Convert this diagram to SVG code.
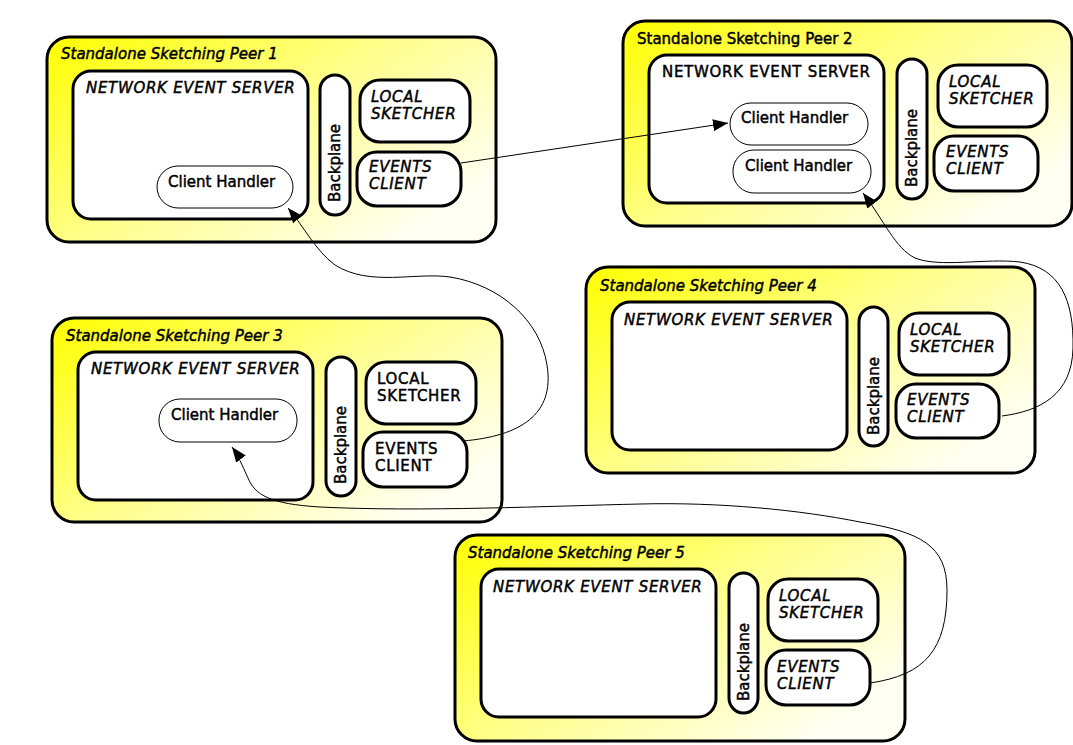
<svg xmlns="http://www.w3.org/2000/svg" width="1073" height="745" viewBox="0 0 1073 745">
  <defs>
    <linearGradient id="peerFill" x1="0" y1="0" x2="1" y2="0.7">
      <stop offset="0" stop-color="#ffff00"/>
      <stop offset="0.5" stop-color="#ffff88"/>
      <stop offset="1" stop-color="#fffff4"/>
    </linearGradient>
    <marker id="arrow" markerUnits="userSpaceOnUse" markerWidth="16" markerHeight="12" refX="15" refY="6" orient="auto">
      <path d="M0,0 L15,6 L0,12 Z" fill="#000"/>
    </marker>
  </defs>
  <style>
    .peer { fill: url(#peerFill); stroke: #000; stroke-width: 3; }
    .box { fill: #fff; stroke: #000; stroke-width: 3; }
    .handler { fill: #fff; stroke: #000; stroke-width: 1; }
    text { font-family: "DejaVu Sans", "Liberation Sans", sans-serif; fill: #000; stroke: #000; stroke-width: 0.45; }
    .title { font-size: 15px; }
    .caps { font-size: 15px; letter-spacing: 0.7px; }
    .ch { font-size: 15px; }
    .bp { font-size: 15px; text-anchor: middle; }
    .it { font-style: oblique; }
    .conn { fill: none; stroke: #000; stroke-width: 1; }
  </style>

  <rect width="1073" height="745" fill="#fff"/>

  <!-- Peer 1 -->
  <g id="peer1" transform="translate(47,37)">
    <rect class="peer" x="0" y="0" width="449" height="205" rx="22"/>
    <text class="title it" x="14" y="22">Standalone Sketching Peer 1</text>
    <g id="peer1-server">
      <rect class="box" x="26" y="34" width="235" height="148" rx="18"/>
      <text class="caps it" x="39" y="56">NETWORK EVENT SERVER</text>
    </g>
    <g id="peer1-handler">
      <rect class="handler" x="110" y="129" width="136" height="42" rx="21"/>
      <text class="ch" x="121" y="150">Client Handler</text>
    </g>
    <g id="peer1-backplane">
      <rect class="box" x="273" y="38" width="30" height="140" rx="15"/>
      <text class="bp" transform="translate(293,126) rotate(-90)">Backplane</text>
    </g>
    <g id="peer1-sketcher">
      <rect class="box" x="313" y="43" width="110" height="62" rx="20"/>
      <text class="caps it" x="324" y="65">LOCAL</text>
      <text class="caps it" x="324" y="82">SKETCHER</text>
    </g>
    <g id="peer1-client">
      <rect class="box" x="310" y="115" width="104" height="54" rx="20"/>
      <text class="caps it" x="322" y="135">EVENTS</text>
      <text class="caps it" x="322" y="152">CLIENT</text>
    </g>
  </g>

  <!-- Peer 2 -->
  <g id="peer2" transform="translate(623,21)">
    <rect class="peer" x="0" y="0" width="449" height="205" rx="22"/>
    <text class="title" x="14" y="23">Standalone Sketching Peer 2</text>
    <g id="peer2-server">
      <rect class="box" x="26" y="34" width="235" height="148" rx="18"/>
      <text class="caps" x="39" y="56">NETWORK EVENT SERVER</text>
    </g>
    <g id="peer2-handler-a">
      <rect class="handler" x="107" y="82" width="138" height="42" rx="21"/>
      <text class="ch" x="118" y="102">Client Handler</text>
    </g>
    <g id="peer2-handler-b">
      <rect class="handler" x="110" y="129" width="138" height="43" rx="21"/>
      <text class="ch" x="122" y="150">Client Handler</text>
    </g>
    <g id="peer2-backplane">
      <rect class="box" x="274" y="38" width="30" height="140" rx="15"/>
      <text class="bp" transform="translate(294,127) rotate(-90)">Backplane</text>
    </g>
    <g id="peer2-sketcher">
      <rect class="box" x="315" y="44" width="109" height="62" rx="20"/>
      <text class="caps it" x="326" y="66">LOCAL</text>
      <text class="caps it" x="326" y="83">SKETCHER</text>
    </g>
    <g id="peer2-client">
      <rect class="box" x="311" y="115" width="104" height="55" rx="20"/>
      <text class="caps it" x="323" y="136">EVENTS</text>
      <text class="caps it" x="323" y="153">CLIENT</text>
    </g>
  </g>

  <!-- Peer 3 -->
  <g id="peer3" transform="translate(52,318)">
    <rect class="peer" x="0" y="0" width="450" height="204" rx="22"/>
    <text class="title it" x="14" y="23">Standalone Sketching Peer 3</text>
    <g id="peer3-server">
      <rect class="box" x="26" y="34" width="235" height="148" rx="18"/>
      <text class="caps it" x="39" y="56">NETWORK EVENT SERVER</text>
    </g>
    <g id="peer3-handler">
      <rect class="handler" x="107" y="81" width="138" height="43" rx="21"/>
      <text class="ch" x="119" y="102">Client Handler</text>
    </g>
    <g id="peer3-backplane">
      <rect class="box" x="274" y="39" width="30" height="139" rx="15"/>
      <text class="bp" transform="translate(294,127) rotate(-90)">Backplane</text>
    </g>
    <g id="peer3-sketcher">
      <rect class="box" x="314" y="44" width="110" height="62" rx="20"/>
      <text class="caps" x="325" y="66">LOCAL</text>
      <text class="caps" x="325" y="83">SKETCHER</text>
    </g>
    <g id="peer3-client">
      <rect class="box" x="311" y="114" width="104" height="55" rx="20"/>
      <text class="caps" x="323" y="136">EVENTS</text>
      <text class="caps" x="323" y="153">CLIENT</text>
    </g>
  </g>

  <!-- Peer 4 -->
  <g id="peer4" transform="translate(586,267)">
    <rect class="peer" x="0" y="0" width="449" height="206" rx="22"/>
    <text class="title it" x="14" y="24">Standalone Sketching Peer 4</text>
    <g id="peer4-server">
      <rect class="box" x="26" y="35" width="235" height="148" rx="18"/>
      <text class="caps it" x="38" y="58">NETWORK EVENT SERVER</text>
    </g>
    <g id="peer4-backplane">
      <rect class="box" x="273" y="40" width="29" height="139" rx="15"/>
      <text class="bp" transform="translate(293,129) rotate(-90)">Backplane</text>
    </g>
    <g id="peer4-sketcher">
      <rect class="box" x="313" y="46" width="110" height="62" rx="20"/>
      <text class="caps it" x="324" y="68">LOCAL</text>
      <text class="caps it" x="324" y="85">SKETCHER</text>
    </g>
    <g id="peer4-client">
      <rect class="box" x="310" y="117" width="103" height="54" rx="20"/>
      <text class="caps it" x="321" y="138">EVENTS</text>
      <text class="caps it" x="321" y="155">CLIENT</text>
    </g>
  </g>

  <!-- Peer 5 -->
  <g id="peer5" transform="translate(455,535)">
    <rect class="peer" x="0" y="0" width="450" height="206" rx="22"/>
    <text class="title it" x="13" y="23">Standalone Sketching Peer 5</text>
    <g id="peer5-server">
      <rect class="box" x="26" y="34" width="235" height="148" rx="18"/>
      <text class="caps it" x="38" y="57">NETWORK EVENT SERVER</text>
    </g>
    <g id="peer5-backplane">
      <rect class="box" x="274" y="38" width="29" height="140" rx="15"/>
      <text class="bp" transform="translate(294,127) rotate(-90)">Backplane</text>
    </g>
    <g id="peer5-sketcher">
      <rect class="box" x="313" y="44" width="110" height="62" rx="20"/>
      <text class="caps it" x="324" y="66">LOCAL</text>
      <text class="caps it" x="324" y="83">SKETCHER</text>
    </g>
    <g id="peer5-client">
      <rect class="box" x="311" y="115" width="104" height="55" rx="20"/>
      <text class="caps it" x="322" y="137">EVENTS</text>
      <text class="caps it" x="322" y="154">CLIENT</text>
    </g>
  </g>

  <!-- Connections between events clients and remote client handlers -->
  <g id="connectors">
    <path class="conn" marker-end="url(#arrow)" d="M461,163 L728,123"/>
    <path class="conn" marker-end="url(#arrow)" d="M463,441 C520,436 555,415 547,365 C540,320 500,285 450,277 C415,272 370,287 335,265 C315,250 305,228 288,208"/>
    <path class="conn" marker-end="url(#arrow)" d="M1002,416 C1040,411 1072,395 1073,348 C1074,300 1060,268 1020,262 C985,258 940,268 915,258 C895,248 885,222 863,193"/>
    <path class="conn" marker-end="url(#arrow)" d="M870,683 C925,675 947,650 947,590 C947,545 920,532 860,522 C800,510 720,502 640,504 C550,506 420,512 320,507 C270,504 255,495 248,478 C242,465 238,455 232,447"/>
  </g>
</svg>
